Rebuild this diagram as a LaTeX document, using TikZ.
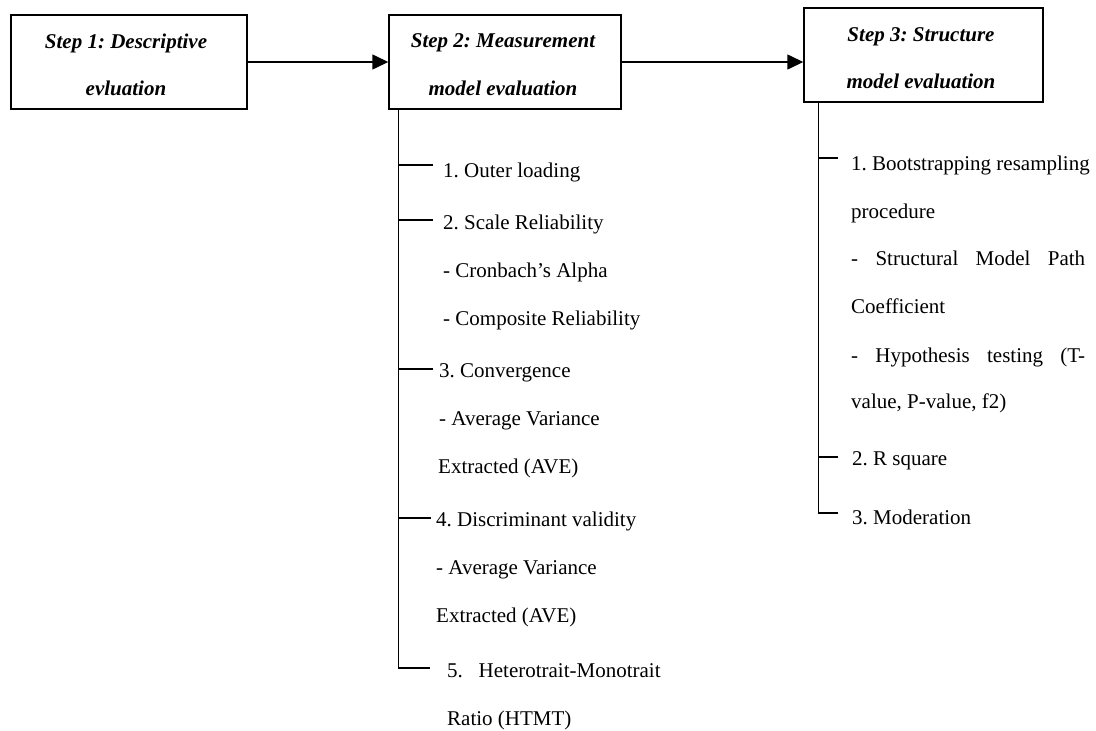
\documentclass[tikz,border=0pt]{standalone}
\usepackage{fontspec}
\setmainfont{Liberation Serif}
\usetikzlibrary{arrows.meta}
\frenchspacing
\begin{document}
\begin{tikzpicture}[x=1pt,y=-1pt,
  stepbox/.style={draw, line width=1.4pt, minimum width=#1, minimum height=94pt, inner sep=0pt},
  head/.style={font=\fontsize{21}{25}\selectfont\bfseries\itshape, anchor=base, inner sep=0pt},
  item/.style={font=\fontsize{21}{25}\selectfont, anchor=base west, inner sep=0pt},
  conn/.style={line width=1.4pt},
  arr/.style={line width=1.4pt, -{Triangle[length=16pt,width=15pt]}}
]
\useasboundingbox (0,0) rectangle (1096,731);

% step boxes
\node[stepbox=236pt] (s1) at (129,62) {};
\node[stepbox=232pt] (s2) at (505,62) {};
\node[stepbox=239pt] (s3) at (923.5,55) {};

\node[head] (s1a) at (126,48) {Step 1: Descriptive};
\node[head] (s1b) at (126,95) {evluation};
\node[head] (s2a) at (503,47) {Step 2: Measurement};
\node[head] (s2b) at (503,95) {model evaluation};
\node[head] (s3a) at (921,41) {Step 3: Structure};
\node[head] (s3b) at (921,88) {model evaluation};

% arrows
\draw[arr] (s1.east) -- (s2.west);
\draw[arr] (s2.east) -- (s2.east -| s3.west);

% measurement items
\node[item] (m1) at (443,177) {1. Outer loading};
\node[item] (m2) at (443,229) {2. Scale Reliability};
\node[item] (m2a) at (443,277) {- Cronbach’s Alpha};
\node[item] (m2b) at (443,325) {- Composite Reliability};
\node[item] (m3) at (439,377) {3. Convergence};
\node[item] (m3a) at (439,425) {- Average Variance};
\node[item] (m3b) at (438,473) {Extracted (AVE)};
\node[item] (m4) at (436,526) {4. Discriminant validity};
\node[item] (m4a) at (436,574) {- Average Variance};
\node[item] (m4b) at (436,622) {Extracted (AVE)};
\node[item] (m5) at (447,677) {5.\hspace{0.75em}Heterotrait-Monotrait};
\node[item] (m5a) at (447,725) {Ratio (HTMT)};

% measurement tree
\coordinate (mt) at ([xshift=10pt]s2.south west);
\coordinate (mb1) at (433,165);
\coordinate (mb2) at (433,220);
\coordinate (mb3) at (433,369);
\coordinate (mb4) at (431,518);
\coordinate (mb5) at (430,668);
\draw[conn] (mt) |- (mb5);
\draw[conn] (mt |- mb1) -- (mb1);
\draw[conn] (mt |- mb2) -- (mb2);
\draw[conn] (mt |- mb3) -- (mb3);
\draw[conn] (mt |- mb4) -- (mb4);

% structure items
\node[item] (t1) at (851,170) {1. Bootstrapping resampling};
\node[item] (t1a) at (851,218) {procedure};
\node[item] (t1b) at (851,265) {\makebox[234pt][s]{- Structural Model Path}};
\node[item] (t1c) at (851,313) {Coefficient};
\node[item] (t1d) at (851,362) {\makebox[234pt][s]{- Hypothesis testing (T-}};
\node[item] (t1e) at (851,408) {value, P-value, f2)};
\node[item] (t2) at (852,465) {2. R square};
\node[item] (t3) at (852,524) {3. Moderation};

% structure tree
\coordinate (st) at ([xshift=15pt]s3.south west);
\coordinate (sb1) at (838,158);
\coordinate (sb2) at (838,457);
\coordinate (sb3) at (838,513);
\draw[conn] (st) |- (sb3);
\draw[conn] (st |- sb1) -- (sb1);
\draw[conn] (st |- sb2) -- (sb2);
\end{tikzpicture}
\end{document}
